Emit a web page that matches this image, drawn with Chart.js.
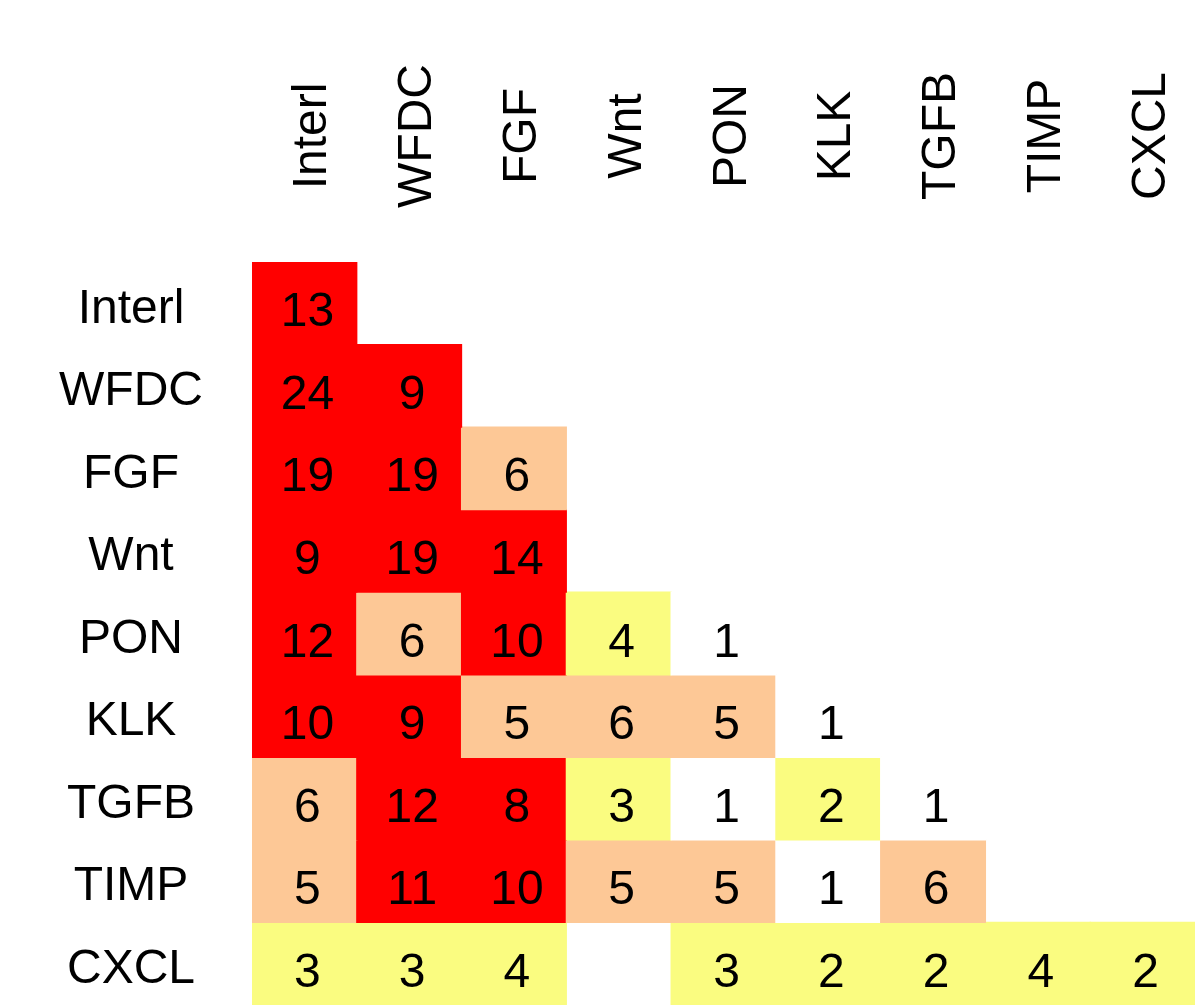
<!DOCTYPE html>
<html>
<head>
<meta charset="utf-8">
<script src="https://cdn.jsdelivr.net/npm/chart.js@4.4.0/dist/chart.umd.min.js"></script>
<style>
    body { margin: 0; background: #fff; }
    #wrap { width: 1200px; height: 1007px; position: relative; }
</style>
</head>
<body>
<div id="wrap"><canvas id="heat"></canvas></div>
<script>
// gene families, same order for columns and rows
const cols = ["Interl", "WFDC", "FGF", "Wnt", "PON", "KLK", "TGFB", "TIMP", "CXCL"];
const rows = ["Interl", "WFDC", "FGF", "Wnt", "PON", "KLK", "TGFB", "TIMP", "CXCL"];

// lower triangle counts, null = empty cell
const interl = [13];
const wfdc = [24, 9];
const fgf = [19, 19, 6];
const wnt = [9, 19, 14, null];
const pon = [12, 6, 10, 4, 1];
const klk = [10, 9, 5, 6, 5, 1];
const tgfb = [6, 12, 8, 3, 1, 2, 1];
const timp = [5, 11, 10, 5, 5, 1, 6, null];
const cxcl = [3, 3, 4, null, 3, 2, 2, 4, 2];

const matrix = [interl, wfdc, fgf, wnt, pon, klk, tgfb, timp, cxcl];

const fontFam = "'Liberation Sans', Arial, sans-serif";

function cellColor(v) {
    if (v == null) return 'rgba(0,0,0,0)';
    if (v >= 8) return '#FF0000';
    if (v >= 5) return '#FDC896';
    if (v >= 2) return '#FAFC80';
    return '#FFFFFF';
}

// one floating-bar dataset per row
let datasets = matrix.map((vals, r) => {
    return {
        label: rows[r],
        data: cols.map((c, i) => (vals[i] == null ? null : [r, r + 1])),
        backgroundColor: cols.map((c, i) => cellColor(vals[i])),
        borderWidth: 0,
        inflateAmount: 0.6,
        grouped: false,
        barPercentage: 1,
        categoryPercentage: 1
    };
});

// numbers in the cells + rotated column names on top
const cellText = {
    id: 'cellText',
    afterDatasetsDraw(chart) {
        let ctx = chart.ctx;
        let xs = chart.scales.x, ys = chart.scales.y;
        ctx.save();
        ctx.fillStyle = '#000';
        ctx.font = '48px ' + fontFam;
        ctx.textAlign = 'center';
        ctx.textBaseline = 'alphabetic';
        matrix.forEach((vals, r) => {
            vals.forEach((v, c) => {
                if (v == null) return;
                let px = xs.getPixelForValue(c) + 3;
                let py = (ys.getPixelForValue(r) + ys.getPixelForValue(r + 1)) / 2 + 23;
                ctx.fillText(String(v), px, py);
            });
        });

        cols.forEach((name, c) => {
            let px = xs.getPixelForValue(c) + 22;
            ctx.save();
            ctx.translate(px, 136);
            ctx.rotate(-Math.PI / 2);
            ctx.textAlign = 'center';
            ctx.fillText(name, 0, 0);
            ctx.restore();
        });
        ctx.restore();
    }
};

new Chart(document.getElementById('heat'), {
    type: 'bar',
    data: {
        labels: cols,
        datasets: datasets
    },
    options: {
        responsive: true,
        maintainAspectRatio: false,
        animation: false,
        layout: {
            padding: { top: 262, right: 5, bottom: 2, left: 0 }
        },
        plugins: {
            legend: { display: false },
            tooltip: { enabled: false }
        },
        scales: {
            x: {
                type: 'category',
                display: false,
                offset: true
            },
            y: {
                type: 'linear',
                reverse: true,
                min: 0,
                max: 9,
                border: { display: false },
                grid: { display: false, drawTicks: false, tickLength: 0 },
                afterFit: (axis) => {
                    axis.width = 252;
                    axis.paddingTop = 0;
                    axis.paddingBottom = 0;
                },
                afterBuildTicks: (axis) => {
                    axis.ticks = rows.map((r, i) => ({ value: i + 0.5 }));
                },
                ticks: {
                    crossAlign: 'center',
                    padding: 49,
                    labelOffset: 6,
                    color: '#000',
                    font: { family: fontFam, size: 48 },
                    callback: (val, idx) => rows[idx]
                }
            }
        }
    },
    plugins: [cellText]
});
</script>
</body>
</html>
